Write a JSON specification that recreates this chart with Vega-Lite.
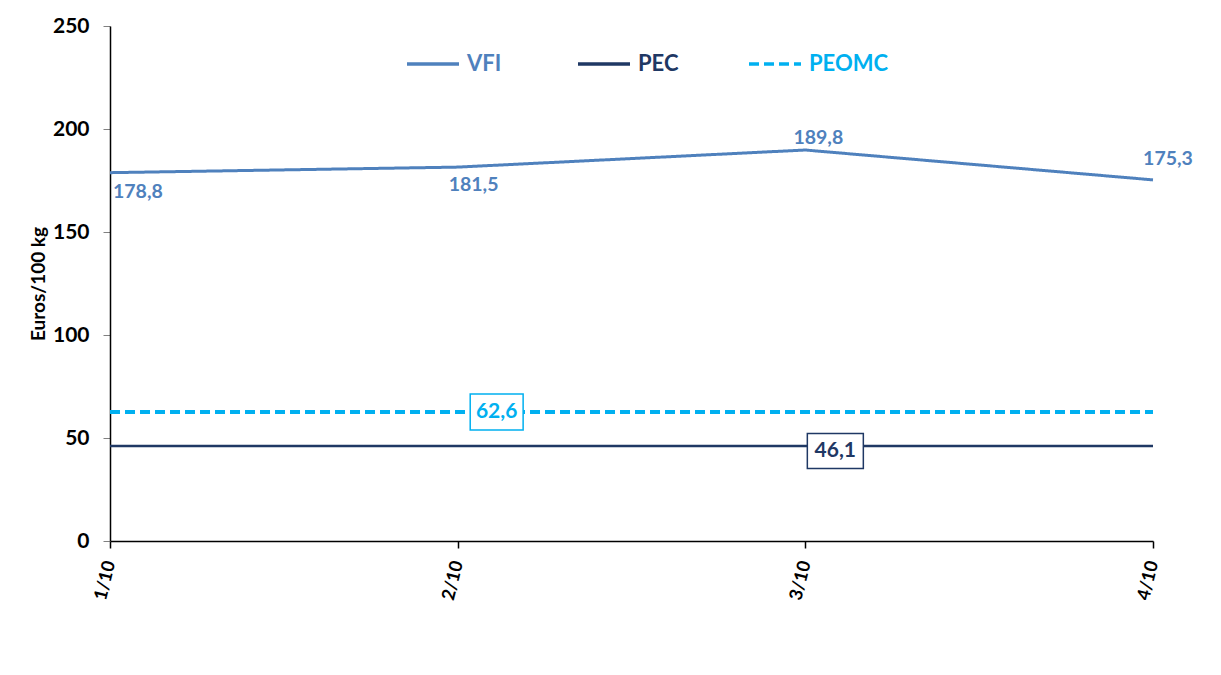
{
  "$schema": "https://vega.github.io/schema/vega-lite/v6.json",
  "width": 1043,
  "height": 515,
  "autosize": {"type": "none"},
  "padding": {"left": 110, "top": 26, "right": 68, "bottom": 134},
  "background": "white",
  "config": {"view": {"stroke": null}, "font": "Lato"},
  "data": {
    "values": [
      {"date": "1/10", "series": "VFI", "value": 178.8, "label": "178,8"},
      {"date": "2/10", "series": "VFI", "value": 181.5, "label": "181,5"},
      {"date": "3/10", "series": "VFI", "value": 189.8, "label": "189,8"},
      {"date": "4/10", "series": "VFI", "value": 175.3, "label": "175,3"},
      {"date": "1/10", "series": "PEC", "value": 46.1, "label": "46,1"},
      {"date": "2/10", "series": "PEC", "value": 46.1, "label": "46,1"},
      {"date": "3/10", "series": "PEC", "value": 46.1, "label": "46,1"},
      {"date": "4/10", "series": "PEC", "value": 46.1, "label": "46,1"},
      {"date": "1/10", "series": "PEOMC", "value": 62.6, "label": "62,6"},
      {"date": "2/10", "series": "PEOMC", "value": 62.6, "label": "62,6"},
      {"date": "3/10", "series": "PEOMC", "value": 62.6, "label": "62,6"},
      {"date": "4/10", "series": "PEOMC", "value": 62.6, "label": "62,6"}
    ]
  },
  "encoding": {
    "x": {
      "field": "date",
      "type": "ordinal",
      "sort": null,
      "scale": {"type": "point", "padding": 0},
      "axis": {
        "title": null,
        "labelAngle": -76,
        "labelFontSize": 18,
        "labelFontWeight": "bold",
        "labelColor": "black",
        "labelPadding": 13,
        "tickSize": 7,
        "tickColor": "black",
        "tickWidth": 1.5,
        "domainColor": "black",
        "domainWidth": 1.5,
        "grid": false
      }
    },
    "y": {
      "field": "value",
      "type": "quantitative",
      "scale": {"domain": [0, 250]},
      "axis": {
        "title": "Euros/100 kg",
        "titleFontSize": 19,
        "titleFontWeight": "bold",
        "titleColor": "black",
        "titlePadding": 4,
        "values": [0, 50, 100, 150, 200, 250],
        "labelFontSize": 21,
        "labelFontWeight": "bold",
        "labelColor": "black",
        "labelPadding": 14,
        "tickSize": 7,
        "tickColor": "#808080",
        "domainColor": "black",
        "domainWidth": 1.5,
        "grid": false
      }
    },
    "color": {
      "field": "series",
      "type": "nominal",
      "scale": {"domain": ["VFI", "PEC", "PEOMC"], "range": ["#4f81bd", "#1f3864", "#00b0f0"]},
      "legend": {
        "title": null,
        "orient": "none",
        "legendX": 295,
        "legendY": 10,
        "direction": "horizontal",
        "columns": 3,
        "gridAlign": "all",
        "columnPadding": 24,
        "symbolType": "stroke",
        "symbolSize": 2704,
        "symbolStrokeWidth": 3.5,
        "labelFontSize": 22,
        "labelFontWeight": "bold",
        "labelOffset": 6,
        "encode": {"labels": {"update": {"fill": {"scale": "color", "field": "value"}}}}
      }
    },
    "strokeDash": {
      "field": "series",
      "type": "nominal",
      "scale": {"domain": ["VFI", "PEC", "PEOMC"], "range": [[1, 0], [1, 0], [10, 5]]},
      "legend": {
        "title": null,
        "orient": "none",
        "legendX": 295,
        "legendY": 10,
        "direction": "horizontal",
        "columns": 3,
        "gridAlign": "all",
        "columnPadding": 24,
        "symbolType": "stroke",
        "symbolSize": 2704,
        "symbolStrokeWidth": 3.5,
        "labelFontSize": 22,
        "labelFontWeight": "bold",
        "labelOffset": 6,
        "encode": {"labels": {"update": {"fill": {"scale": "color", "field": "value"}}}}
      }
    }
  },
  "layer": [
    {
      "transform": [{"filter": "datum.series == 'VFI'"}],
      "mark": {"type": "line", "strokeWidth": 3}
    },
    {
      "transform": [{"filter": "datum.series == 'PEC'"}],
      "mark": {"type": "line", "strokeWidth": 2.5}
    },
    {
      "transform": [{"filter": "datum.series == 'PEOMC'"}],
      "mark": {"type": "line", "strokeWidth": 4}
    },
    {
      "transform": [{"filter": "datum.series == 'VFI' && datum.date == '1/10'"}],
      "mark": {"type": "text", "align": "left", "baseline": "middle", "dx": 3, "dy": 19, "fontSize": 19.5, "fontWeight": "bold", "color": "#4f81bd"},
      "encoding": {"text": {"field": "label"}, "color": null, "strokeDash": null}
    },
    {
      "transform": [{"filter": "datum.series == 'VFI' && datum.date == '2/10'"}],
      "mark": {"type": "text", "align": "left", "baseline": "middle", "dx": -9, "dy": 18, "fontSize": 19.5, "fontWeight": "bold", "color": "#4f81bd"},
      "encoding": {"text": {"field": "label"}, "color": null, "strokeDash": null}
    },
    {
      "transform": [{"filter": "datum.series == 'VFI' && datum.date == '3/10'"}],
      "mark": {"type": "text", "align": "center", "baseline": "middle", "dx": 13, "dy": -12, "fontSize": 19.5, "fontWeight": "bold", "color": "#4f81bd"},
      "encoding": {"text": {"field": "label"}, "color": null, "strokeDash": null}
    },
    {
      "transform": [{"filter": "datum.series == 'VFI' && datum.date == '4/10'"}],
      "mark": {"type": "text", "align": "center", "baseline": "middle", "dx": 15, "dy": -21, "fontSize": 19.5, "fontWeight": "bold", "color": "#4f81bd"},
      "encoding": {"text": {"field": "label"}, "color": null, "strokeDash": null}
    },
    {
      "transform": [{"filter": "datum.series == 'PEOMC' && datum.date == '2/10'"}],
      "mark": {"type": "point", "shape": "M-1.47,-1H1.47V1H-1.47Z", "size": 1296, "filled": true, "fill": "white", "stroke": "#00b0f0", "strokeWidth": 1.5, "opacity": 1, "xOffset": 39},
      "encoding": {"color": null, "strokeDash": null}
    },
    {
      "transform": [{"filter": "datum.series == 'PEOMC' && datum.date == '2/10'"}],
      "mark": {"type": "text", "align": "center", "baseline": "middle", "dx": 39, "dy": 0, "fontSize": 21, "fontWeight": "bold", "color": "#00b0f0"},
      "encoding": {"text": {"field": "label"}, "color": null, "strokeDash": null}
    },
    {
      "transform": [{"filter": "datum.series == 'PEC' && datum.date == '3/10'"}],
      "mark": {"type": "point", "shape": "M-1.6,-1H1.6V1H-1.6Z", "size": 1225, "filled": true, "fill": "white", "stroke": "#1f3864", "strokeWidth": 1.5, "opacity": 1, "xOffset": 30, "yOffset": 5},
      "encoding": {"color": null, "strokeDash": null}
    },
    {
      "transform": [{"filter": "datum.series == 'PEC' && datum.date == '3/10'"}],
      "mark": {"type": "text", "align": "center", "baseline": "middle", "dx": 30, "dy": 5, "fontSize": 21, "fontWeight": "bold", "color": "#1f3864"},
      "encoding": {"text": {"field": "label"}, "color": null, "strokeDash": null}
    }
  ]
}
